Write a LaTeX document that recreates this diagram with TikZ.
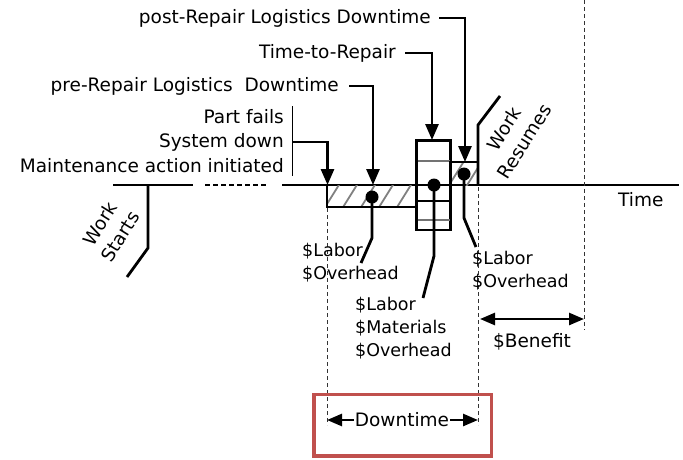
\documentclass[tikz,border=0pt]{standalone}
\usepackage{fontspec}
\setmainfont{DejaVu Sans}
\usetikzlibrary{arrows.meta}
\definecolor{boxred}{RGB}{192,80,77}
\begin{document}
\begin{tikzpicture}[x=1pt,y=-1pt,
  thickline/.style={line width=2.8pt},
  callout/.style={line width=2.8pt,-{Triangle[length=16pt,width=13pt]}},
  dimline/.style={line width=2.6pt,{Triangle[length=15pt,width=12pt]}-{Triangle[length=15pt,width=12pt]}},
  dashline/.style={line width=0.9pt,dash pattern=on 4pt off 3pt,black!80},
  hatch/.style={line width=1.8pt,black!50},
  lbl/.style={font=\fontsize{18.5}{24}\selectfont,inner sep=0pt},
  costlbl/.style={font=\fontsize{17.5}{23}\selectfont,inner sep=0pt,anchor=north west,align=left},
  dot/.style={circle,fill=black,minimum size=13pt,inner sep=0pt},
]
\useasboundingbox (0,0) rectangle (683,459);

% timeline
\coordinate (t0) at (113,185); \coordinate (t1) at (193,185);
\coordinate (d0) at (205,185); \coordinate (d1) at (268,185);
\coordinate (t2) at (282,185); \coordinate (t3) at (679,185);
\draw[thickline] (t0) -- (t1);
\draw[line width=2.8pt,dash pattern=on 5pt off 3pt] (d0) -- (d1);
\draw[thickline] (t2) -- (t3);
\node[lbl,anchor=west] (time) at (618,200) {Time};

% pre-repair hatched box
\begin{scope}
\clip (327,185) rectangle (416,207);
\foreach \i in {0,...,7} \draw[hatch] (322+\i*18,212) -- (342+\i*18,180);
\end{scope}
\draw[thickline] (416,207) -- (327,207) -- (327,184);

% repair box
\draw[thickline,fill=white] (416.5,140.5) rectangle (450.5,230);
\draw[line width=2.4pt,black!55] (417.5,161) -- (449.5,161);
\draw[line width=2.4pt,black!55] (417.5,220) -- (449.5,220);
\draw[thickline] (416.5,185) -- (450.5,185);
\draw[thickline] (416.5,201) -- (450.5,201);

% post-repair hatched box
\begin{scope}
\clip (450.5,162) rectangle (478,185);
\foreach \i in {0,...,2} \draw[hatch] (446+\i*18,190) -- (466+\i*18,158);
\end{scope}
\draw[thickline] (450.5,185) -- (450.5,162) -- (478,162);

% work resumes / starts
\coordinate (wr0) at (478,185); \coordinate (wr1) at (478,125); \coordinate (wr2) at (500,96);
\draw[thickline] (wr0) -- (wr1) -- (wr2);
\node[lbl,rotate=58,align=center] (wrtext) at (514,135) {Work\\Resumes};
\coordinate (ws0) at (148,185); \coordinate (ws1) at (148,248); \coordinate (ws2) at (127,277);
\draw[thickline] (ws0) -- (ws1) -- (ws2);
\node[lbl,rotate=58,align=center] (wstext) at (110,230) {Work\\Starts};

% dashed verticals
\draw[dashline] (327,208) -- (327,425);
\draw[dashline] (478,187) -- (478,425);
\draw[dashline] (584,0) -- (584,330);

% top labels and callouts
\node[lbl,anchor=east] (post) at (431,18) {post-Repair Logistics Downtime};
\draw[callout] (post.east) ++(8,0) -- (465,18) -- (465,162);
\node[lbl,anchor=east] (ttr) at (396,53) {Time-to-Repair};
\draw[callout] (ttr.east) ++(9,0) -- (432,53) -- (432,140);
\node[lbl,anchor=east] (pre) at (339,86) {pre-Repair Logistics\ \ Downtime};
\draw[callout] (pre.east) ++(10,0) -- (373,86) -- (373,185);

\node[lbl,anchor=east] (pf) at (284,117) {Part fails};
\node[lbl,anchor=east] (sd) at (284,142) {System down};
\node[lbl,anchor=east] (ma) at (284,166) {Maintenance action initiated};
\draw[line width=1.8pt] (292.5,106) -- (292.5,176);
\draw[callout] (292.5,142) -- (327.5,142) -- (327.5,185);

% dots and stems
\node[dot] (dpre) at (372,197) {};
\node[dot] (drep) at (434,185) {};
\node[dot] (dpost) at (464,174) {};
\draw[thickline] (dpre.center) -- (372,238) -- (361,263);
\draw[thickline] (drep.center) -- (434,256) -- (423,298);
\draw[thickline] (dpost.center) -- (464,218) -- (476,247);

\node[costlbl] (lpre) at (302,243) {\$Labor\\\$Overhead};
\node[costlbl] (lrep) at (355,297) {\$Labor\\\$Materials\\\$Overhead};
\node[costlbl] (lpost) at (472,251) {\$Labor\\\$Overhead};

% benefit
\coordinate (b0) at (480,319); \coordinate (b1) at (584,319);
\draw[dimline] (b0) -- (b1);
\node[lbl] (ben) at (532,342) {\$Benefit};

% downtime
\node[lbl,fill=white,inner xsep=1pt] (dt) at (402,420) {Downtime};
\coordinate (dl) at (327,420); \coordinate (dr) at (478,420);
\draw[line width=2.6pt,-{Triangle[length=15pt,width=12pt]}] (dt.west) -- (dl);
\draw[line width=2.6pt,-{Triangle[length=15pt,width=12pt]}] (dt.east) -- (dr);
\draw[boxred,line width=3.4pt] (314,394.5) rectangle (491.5,456);
\end{tikzpicture}
\end{document}
